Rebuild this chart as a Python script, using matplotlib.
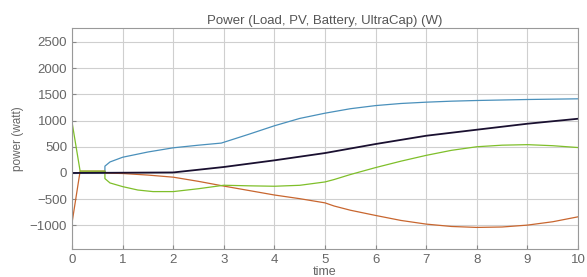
import numpy as np
import matplotlib
matplotlib.use("Agg")
import matplotlib.pyplot as plt

plt.rcParams['font.family'] = ['Liberation Sans', 'DejaVu Sans']

# PV (blue)
t_pv = [0, 0.65, 0.65, 0.75, 1.0, 1.5, 2.0, 2.5, 2.95, 3.5, 4.0, 4.5, 5.0, 5.5, 6.0, 6.5, 7.0, 7.5, 8.0, 9.0, 10.0]
p_pv = [0, 0, 130, 210, 300, 400, 480, 530, 570, 740, 900, 1040, 1140, 1225, 1285, 1325, 1350, 1369, 1382, 1401, 1414]

# Battery (orange)
t_bat = [0, 0.16, 0.65, 0.65, 1.0, 1.5, 2.0, 2.5, 3.0, 3.5, 4.0, 4.5, 5.0, 5.18, 5.5, 6.0, 6.5, 7.0, 7.5, 8.0, 8.5, 9.0, 9.5, 10.0]
p_bat = [-950, 35, 35, 0, -10, -40, -80, -160, -250, -335, -420, -490, -570, -630, -710, -810, -905, -975, -1020, -1038, -1030, -994, -930, -836]

# UltraCap (green)
t_uc = [0, 0.16, 0.65, 0.65, 0.75, 1.0, 1.3, 1.6, 2.0, 2.5, 3.0, 3.5, 4.0, 4.5, 5.0, 5.18, 5.5, 6.0, 6.5, 7.0, 7.5, 8.0, 8.5, 9.0, 9.5, 10.0]
p_uc = [970, 35, 35, -107, -190, -260, -325, -355, -355, -300, -234, -245, -253, -235, -171, -125, -30, 103, 225, 336, 432, 500, 530, 540, 520, 485]

# Load (black)
t_load = [0, 2.0, 3.0, 4.0, 5.0, 6.0, 7.0, 8.0, 9.0, 10.0]
p_load = [0, 10, 114, 241, 380, 552, 710, 825, 939, 1034]

fig = plt.figure(figsize=(5.87, 2.77), dpi=100)
ax = fig.add_axes([0.1227, 0.101, 0.862, 0.799])

ax.plot(t_pv, p_pv, color='#4a90bb', lw=0.9)
ax.plot(t_bat, p_bat, color='#c8662f', lw=0.9)
ax.plot(t_uc, p_uc, color='#7fbf2a', lw=0.9)
ax.plot(t_load, p_load, color='#1a1030', lw=1.3)

ax.set_xlim(0, 10)
ax.set_ylim(-1450, 2770)
ax.set_xticks(range(0, 11))
ax.set_yticks([-1000, -500, 0, 500, 1000, 1500, 2000, 2500])
ax.grid(True, color='#cfcfcf', lw=0.8)
ax.tick_params(direction='in', length=3, colors='#888888', labelcolor='#666666', labelsize=9.5)
for s in ax.spines.values():
    s.set_color('#999999')
    s.set_linewidth(0.8)

ax.set_title('Power (Load, PV, Battery, UltraCap) (W)', fontsize=9.5, color='#555555', pad=3)
ax.set_xlabel('time', fontsize=9, color='#666666', labelpad=0)
ax.set_ylabel('power (watt)', fontsize=8.5, color='#666666', labelpad=4)

fig.savefig('out.png', dpi=100)
